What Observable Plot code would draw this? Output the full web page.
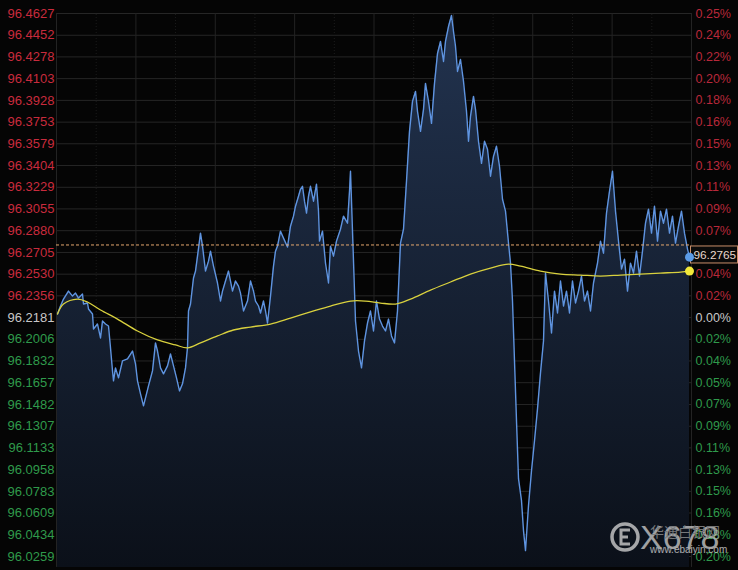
<!DOCTYPE html>
<html><head><meta charset="utf-8">
<script src="https://cdn.jsdelivr.net/npm/d3@7"></script>
<script src="https://cdn.jsdelivr.net/npm/@observablehq/plot@0.6"></script>
<style>
html,body{margin:0;padding:0;background:#050505;}
#chart{width:738px;height:570px;overflow:hidden;}
</style></head><body><div id="chart"></div>
<script>
// time (minutes into session) of each price sample
const minutes = [
  1,4,7,12,16,19,22,26,27,31,
  32,36,37,41,44,46,49,52,54,56,
  57,59,62,66,71,76,79,81,84,87,
  89,92,96,99,101,104,107,111,114,117,
  120,123,126,129,131,132,134,137,139,141,
  144,146,149,152,154,157,161,164,166,169,
  172,176,179,182,184,187,191,194,197,199,
  202,204,207,209,211,214,217,219,221,224,
  227,231,234,237,239,242,244,246,248,250,
  252,254,257,260,262,263,266,269,272,274,
  277,280,284,287,291,293,294,296,299,302,
  305,308,311,314,317,320,323,326,329,332,
  335,338,341,344,347,350,353,356,359,361,
  364,367,369,372,375,378,381,384,387,389,
  392,395,397,399,401,404,407,410,412,414,
  417,419,422,425,428,431,434,437,440,443,
  446,449,452,454,456,458,460,462,465,467,
  469,472,475,478,481,484,487,489,492,495,
  498,501,504,507,510,513,516,519,522,525,
  528,531,534,537,541,544,547,550,553,556,
  559,562,565,568,571,574,577,580,583,586,
  589,592,595,598,601,604,607,610,613,616,
  619,622,625,628,631,633
];
const prices = [
  96.2210,96.2274,96.2330,96.2394,96.2354,96.2378,96.2338,96.2370,96.2290,96.2298,
  96.2250,96.2210,96.2089,96.2129,96.2017,96.2153,96.2129,96.2113,96.1937,96.1752,
  96.1672,96.1776,96.1696,96.1832,96.1848,96.1912,96.1808,96.1672,96.1567,96.1471,
  96.1535,96.1631,96.1752,96.1977,96.1912,96.1776,96.1728,96.1792,96.1888,96.1792,
  96.1696,96.1591,96.1648,96.1776,96.1937,96.2234,96.2290,96.2499,96.2555,96.2675,
  96.2860,96.2756,96.2555,96.2635,96.2715,96.2595,96.2459,96.2314,96.2394,96.2475,
  96.2555,96.2394,96.2475,96.2434,96.2378,96.2234,96.2314,96.2475,96.2394,96.2314,
  96.2274,96.2218,96.2314,96.2234,96.2137,96.2354,96.2595,96.2715,96.2756,96.2876,
  96.2820,96.2748,96.2916,96.2997,96.3077,96.3157,96.3213,96.3237,96.3117,96.3021,
  96.3157,96.3237,96.3117,96.3254,96.3037,96.2796,96.2876,96.2619,96.2459,96.2756,
  96.2675,96.2796,96.2892,96.2997,96.2940,96.3197,96.3358,96.2876,96.2153,96.1912,
  96.1776,96.1993,96.2137,96.2234,96.2073,96.2314,96.2169,96.2113,96.2073,96.2169,
  96.2033,96.1977,96.2234,96.2780,96.2892,96.3278,96.3679,96.3920,96.4000,96.3840,
  96.3679,96.3856,96.4065,96.3920,96.3743,96.4065,96.4305,96.4402,96.4241,96.4402,
  96.4522,96.4611,96.4482,96.4362,96.4161,96.4257,96.4081,96.3840,96.3599,96.3800,
  96.3960,96.3856,96.3599,96.3422,96.3599,96.3535,96.3318,96.3478,96.3559,96.3398,
  96.3133,96.3037,96.2780,96.2619,96.2314,96.1832,96.1350,96.0885,96.0708,96.0467,
  96.0306,96.0668,96.0949,96.1190,96.1447,96.1736,96.1993,96.2539,96.2314,96.2057,
  96.2394,96.2218,96.2475,96.2274,96.2394,96.2218,96.2475,96.2298,96.2394,96.2515,
  96.2314,96.2394,96.2234,96.2459,96.2619,96.2796,96.2699,96.3021,96.3197,96.3358,
  96.3037,96.2796,96.2571,96.2651,96.2394,96.2619,96.2539,96.2715,96.2515,96.2715,
  96.2940,96.3053,96.2860,96.3077,96.2796,96.3037,96.2940,96.3053,96.2860,96.2997,
  96.2780,96.2916,96.3037,96.2860,96.2732,96.2667
];
// moving average (yellow)
const maMinutes = [1,7,21,31,44,61,81,101,119,131,144,161,177,194,214,234,254,274,294,309,
  324,339,354,374,394,414,434,452,464,484,504,524,544,564,584,604,624,633];
const maValues = [96.2210,96.2290,96.2330,96.2306,96.2242,96.2169,96.2073,96.2001,96.1961,96.1937,
  96.1977,96.2033,96.2081,96.2105,96.2129,96.2177,96.2226,96.2274,96.2314,96.2314,
  96.2298,96.2290,96.2330,96.2402,96.2467,96.2531,96.2579,96.2611,96.2595,96.2555,
  96.2531,96.2523,96.2515,96.2523,96.2531,96.2539,96.2547,96.2555];
// axes
const leftTicks = [96.4627,96.4452,96.4278,96.4103,96.3928,96.3753,96.3579,96.3404,96.3229,96.3055,
  96.2880,96.2705,96.2530,96.2356,96.2181,96.2006,96.1832,96.1657,96.1482,96.1307,
  96.1133,96.0958,96.0783,96.0609,96.0434,96.0259];
const leftTickLabels = ["96.4627","96.4452","96.4278","96.4103","96.3928","96.3753","96.3579","96.3404","96.3229","96.3055",
  "96.2880","96.2705","96.2530","96.2356","96.2181","96.2006","96.1832","96.1657","96.1482","96.1307",
  "96.1133","96.0958","96.0783","96.0609","96.0434","96.0259"];
const rightTickLabels = ["0.25%","0.24%","0.22%","0.20%","0.18%","0.16%","0.15%","0.13%","0.11%","0.09%",
  "0.07%","0.05%","0.04%","0.02%","0.00%","0.02%","0.04%","0.05%","0.07%","0.09%",
  "0.11%","0.13%","0.15%","0.16%","0.18%","0.20%"];
const basePrice = 96.2181;
const refPrice = 96.2765;
const refLabel = "96.2765";
const sessionLength = 635;
const floorPrice = 96.0171;

const series = minutes.map((t, i) => ({t, v: prices[i]}));
const ma = maMinutes.map((t, i) => ({t, v: maValues[i]}));
const gridMajor = d3.range(0, 8.5).map(k => k * sessionLength / 8);
const gridMinor = d3.range(0, 8).map(k => (k + 0.5) * sessionLength / 8);
const topTick = leftTicks[0];
// right labels: the one just under the reference-price box is hidden by it
const rightIdx = leftTicks.map((d, i) => i).filter(i => !(leftTicks[i] < refPrice && refPrice - leftTicks[i] < 0.01));

const leftColor = v => Math.abs(v - basePrice) < 1e-6 ? "#c8c8c8" : v > basePrice ? "#c92b3d" : "#2f9a4b";
const rightColor = v => Math.abs(v - basePrice) < 1e-6 ? "#c8c8c8" : v > basePrice ? "#b8283a" : "#2f9a4b";

const chart = Plot.plot({
  width: 738, height: 570,
  marginLeft: 56, marginRight: 47, marginTop: 13, marginBottom: 14,
  x: {domain: [0, sessionLength], axis: null},
  y: {domain: [leftTicks[leftTicks.length - 1], topTick], axis: null},
  color: {type: "identity"},
  style: {background: "transparent", fontFamily: "'Liberation Sans', Arial, sans-serif", overflow: "visible"},
  marks: [
    Plot.ruleY(leftTicks, {stroke: "#262626", strokeWidth: 1}),
    Plot.ruleX(gridMinor, {y1: floorPrice, y2: topTick, stroke: "#1d1d1d", strokeDasharray: "1,2"}),
    Plot.ruleX(gridMajor, {y1: floorPrice, y2: topTick, stroke: "#232323"}),
    Plot.areaY(series, {x: "t", y1: floorPrice, y2: "v", fill: "url(#areaGrad)"}),
    Plot.line(series, {x: "t", y: "v", stroke: "#5f94e0", strokeWidth: 1.4}),
    Plot.line(ma, {x: "t", y: "v", stroke: "#d9d13e", strokeWidth: 1.3, curve: "catmull-rom"}),
    Plot.ruleY([refPrice], {stroke: "#e3a66e", strokeDasharray: "3,2", strokeWidth: 1}),
    Plot.text(leftTicks, {y: d => d, text: (d, i) => leftTickLabels[i], frameAnchor: "left", textAnchor: "end", dx: -2, fill: leftColor, fontSize: 13}),
    Plot.text(rightIdx, {y: i => leftTicks[i], text: i => rightTickLabels[i], frameAnchor: "right", textAnchor: "start", dx: 4, fill: i => rightColor(leftTicks[i]), fontSize: 12.5}),
    Plot.dot([series[series.length - 1]], {x: "t", y: "v", r: 4.5, fill: "#5b9be6"}),
    Plot.dot([ma[ma.length - 1]], {x: "t", y: "v", r: 4.5, fill: "#f2e83a"})
  ]
});

const NS = "http://www.w3.org/2000/svg";
const svg = d3.select(chart);
// gradient for the area
const defs = svg.insert("defs", ":first-child");
const grad = defs.append("linearGradient").attr("id", "areaGrad")
  .attr("gradientUnits", "userSpaceOnUse").attr("x1", 0).attr("x2", 0)
  .attr("y1", chart.scale("y").apply(topTick)).attr("y2", chart.scale("y").apply(floorPrice));
grad.append("stop").attr("offset", "0%").attr("stop-color", "#22334f");
grad.append("stop").attr("offset", "100%").attr("stop-color", "#0b1019");

// reference price label box
const yRef = chart.scale("y").apply(refPrice);
const xRight = chart.scale("x").apply(sessionLength);
const box = document.createElementNS(NS, "g");
const bsel = d3.select(box);
bsel.append("rect").attr("x", xRight - 0.5).attr("y", yRef + 1.5).attr("width", 47).attr("height", 17)
  .attr("fill", "#0a0a0a").attr("stroke", "#c98f6a").attr("stroke-width", 1);
bsel.append("text").attr("x", xRight + 2.5).attr("y", yRef + 10).attr("dy", "0.35em")
  .attr("text-anchor", "start").attr("fill", "#e6d6cc").attr("font-size", 11.8).text(refLabel);
const firstDot = chart.querySelector('g[aria-label="dot"]');
chart.insertBefore(box, firstDot);

// watermark
const wm = svg.append("g").attr("opacity", 0.75).attr("text-anchor", "start");
wm.append("circle").attr("cx", 625).attr("cy", 537).attr("r", 13).attr("fill", "none")
  .attr("stroke", "#d8d8d8").attr("stroke-width", 3.5);
wm.append("path").attr("d", "M630,530 L621,530 L621,544 L630,544 M621,537 L628,537")
  .attr("fill", "none").attr("stroke", "#d8d8d8").attr("stroke-width", 3);
wm.append("text").attr("x", 640).attr("y", 549).attr("fill", "#d0d0d0").attr("font-size", 34)
  .attr("font-family", "'Liberation Sans', Arial, sans-serif").text("X678");
wm.append("text").attr("x", 650).attr("y", 537).attr("fill", "#9a9a9a").attr("font-size", 14)
  .attr("font-family", "'Noto Sans CJK SC', sans-serif").text("华通白银网");
wm.append("text").attr("x", 650).attr("y", 553).attr("fill", "#e0e0e0").attr("font-size", 10)
  .attr("font-family", "'Liberation Sans', Arial, sans-serif").text("www.ebaiyin.com");

document.getElementById("chart").appendChild(chart);
</script>
</body></html>
